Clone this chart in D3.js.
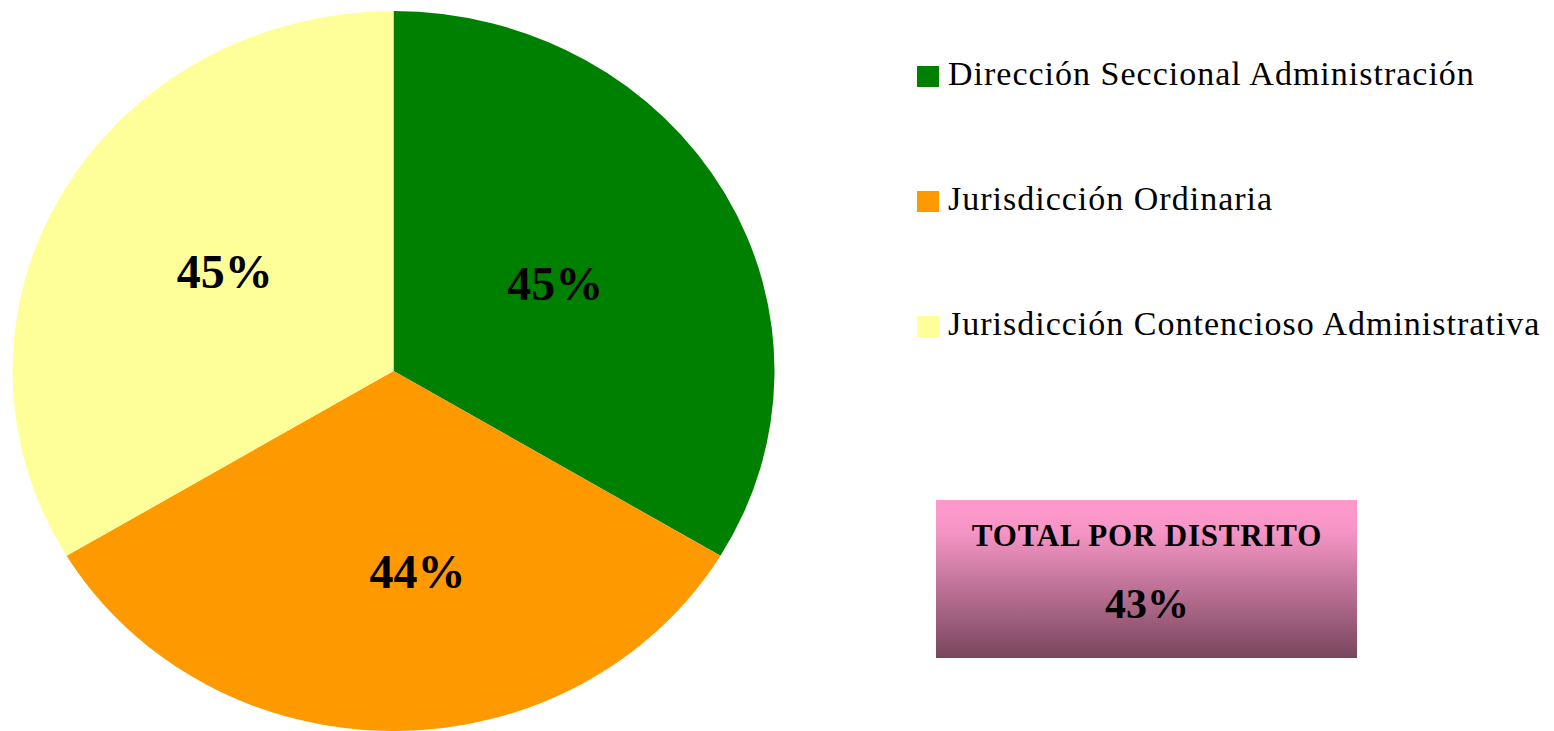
<!DOCTYPE html>
<html>
<head>
<meta charset="utf-8">
<script src="https://cdn.jsdelivr.net/npm/d3@7"></script>
<style>
  body { margin: 0; background: #fff; }
  svg { display: block; }
</style>
</head>
<body>
<svg id="chart" width="1554" height="731"></svg>
<script>
const categories = ['Dirección Seccional Administración', 'Jurisdicción Ordinaria', 'Jurisdicción Contencioso Administrativa']
const values = [45, 44, 45]
const colors = ['#008000', '#FF9900', '#FFFF99']
const totalLabel = 'TOTAL POR DISTRITO'
const totalValue = 43

const svg = d3.select('#chart')

// pie is slightly stretched horizontally in the original
const cx = 393.5,
  cy = 371,
  ry = 360,
  rx = 381

// hand placed label nudges (the original labels were moved a bit)
const labelNudge = [
  [-4, 1],
  [24, 20],
  [-3, -11],
]

const pie = d3.pie().sort(null).value((d) => d)
const arcs = pie(values)

const arc = d3.arc().innerRadius(0).outerRadius(ry)
const labelArc = d3.arc().innerRadius(ry * 0.5).outerRadius(ry * 0.5)

const g = svg.append('g').attr('transform', 'translate(' + cx + ',' + cy + ')')

g.append('g')
  .attr('transform', 'scale(' + rx / ry + ',1)')
  .selectAll('path')
  .data(arcs)
  .enter()
  .append('path')
  .attr('d', arc)
  .attr('fill', (d, i) => colors[i])

// labels drawn outside the scaled group so text is not stretched
g.selectAll('text')
  .data(arcs)
  .enter()
  .append('text')
  .attr('x', (d, i) => labelArc.centroid(d)[0] * (rx / ry) + labelNudge[i][0])
  .attr('y', (d, i) => labelArc.centroid(d)[1] + labelNudge[i][1])
  .attr('dy', '0.35em')
  .attr('text-anchor', 'middle')
  .attr('font-family', '"Liberation Serif", serif')
  .attr('font-weight', 'bold')
  .attr('font-size', 48)
  .attr('fill', '#000')
  .text((d) => d.data + '%')

// legend
const legend = svg.append('g').attr('transform', 'translate(917,66)')
const row = legend
  .selectAll('g')
  .data(categories)
  .enter()
  .append('g')
  .attr('transform', (d, i) => 'translate(0,' + i * 125 + ')')

row.append('rect').attr('width', 22).attr('height', 21).attr('fill', (d, i) => colors[i])

row
  .append('text')
  .attr('x', 31)
  .attr('y', 19)
  .attr('font-family', '"Liberation Serif", serif')
  .attr('font-size', 34)
  .attr('letter-spacing', 1)
  .attr('fill', '#000')
  .text((d) => d)

// total box
const defs = svg.append('defs')
const grad = defs
  .append('linearGradient')
  .attr('id', 'boxGrad')
  .attr('x1', 0)
  .attr('y1', 0)
  .attr('x2', 0)
  .attr('y2', 1)
grad.append('stop').attr('offset', '0%').attr('stop-color', '#FF99CC')
grad.append('stop').attr('offset', '20%').attr('stop-color', '#F595C5')
grad.append('stop').attr('offset', '100%').attr('stop-color', '#78465C')

const box = svg.append('g').attr('transform', 'translate(936,500)')
box.append('rect').attr('width', 421).attr('height', 158).attr('fill', 'url(#boxGrad)')
box
  .append('text')
  .attr('x', 211)
  .attr('y', 46)
  .attr('text-anchor', 'middle')
  .attr('font-family', '"Liberation Serif", serif')
  .attr('font-weight', 'bold')
  .attr('font-size', 31)
  .attr('letter-spacing', 0.8)
  .text(totalLabel)
box
  .append('text')
  .attr('x', 211)
  .attr('y', 118)
  .attr('text-anchor', 'middle')
  .attr('font-family', '"Liberation Serif", serif')
  .attr('font-weight', 'bold')
  .attr('font-size', 42)
  .text(totalValue + '%')
</script>
</body>
</html>
